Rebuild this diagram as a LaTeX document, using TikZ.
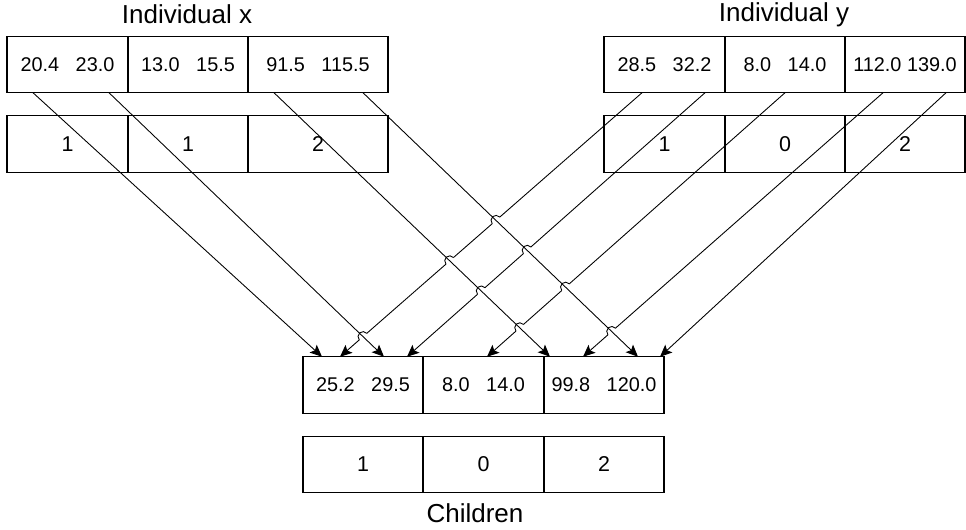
\documentclass[tikz,border=0pt]{standalone}
\usepackage{fontspec}
\setmainfont{Liberation Sans}
\usetikzlibrary{arrows.meta,positioning,calc,intersections}
\tikzset{
  gene/.style={draw,outer sep=0pt,inner sep=0pt,minimum height=1.13cm,
    line width=0.6pt,font=\fontsize{11.3}{13}\selectfont},
  code/.style={gene,font=\fontsize{12.2}{14}\selectfont},
  caption/.style={font=\fontsize{14.8}{17}\selectfont},
  link/.style={-{Stealth[length=2.4mm,width=2.1mm,inset=0.5mm]},line width=0.5pt},
  hop/.style={line width=0.5pt}
}
\newcommand{\gap}{\hspace{0.83em}}
% small arc of arrow R#2 jumping over arrow L#1
\newcommand{\hopover}[2]{%
  \path[name intersections={of=L#1 and R#2,by=j}];
  \fill[white] (j) circle (0.1);
  \draw[hop] let \p1=($(ys#2)-(ye#2)$), \n1={atan2(\y1,\x1)} in
    ($(j)+(\n1:0.1)$) arc[start angle=\n1,delta angle=180,radius=0.1];
}

\begin{document}
\begin{tikzpicture}[node distance=0.46cm]
  \useasboundingbox (0,0) rectangle (19.32,10.6);
  % first parent
  \node[gene,minimum width=2.42cm] (x1) at (1.35,9.31) {20.4\gap23.0};
  \node[gene,minimum width=2.40cm,right=0pt of x1] (x2) {13.0\gap15.5};
  \node[gene,minimum width=2.80cm,right=0pt of x2] (x3) {91.5\gap115.5};
  \node[code,minimum width=2.42cm,below=of x1] (kx1) {1};
  \node[code,minimum width=2.40cm,right=0pt of kx1] (kx2) {1};
  \node[code,minimum width=2.80cm,right=0pt of kx2] (kx3) {2};
  \node[caption] (tx) at (3.74,10.31) {Individual x};
  % second parent
  \node[gene,minimum width=2.42cm] (y1) at (13.29,9.31) {28.5\gap32.2};
  \node[gene,minimum width=2.40cm,right=0pt of y1] (y2) {8.0\gap14.0};
  \node[gene,minimum width=2.40cm,right=0pt of y2] (y3) {112.0 139.0};
  \node[code,minimum width=2.42cm,below=of y1] (ky1) {1};
  \node[code,minimum width=2.40cm,right=0pt of ky1] (ky2) {0};
  \node[code,minimum width=2.40cm,right=0pt of ky2] (ky3) {2};
  \node[caption] (ty) at (15.68,10.31) {Individual y};
  % offspring
  \node[gene,minimum width=2.40cm] (c1) at (7.26,2.90) {25.2\gap29.5};
  \node[gene,minimum width=2.42cm,right=0pt of c1] (c2) {8.0\gap14.0};
  \node[gene,minimum width=2.40cm,right=0pt of c2] (c3) {99.8\gap120.0};
  \node[code,minimum width=2.40cm,below=of c1] (kc1) {1};
  \node[code,minimum width=2.42cm,right=0pt of kc1] (kc2) {0};
  \node[code,minimum width=2.40cm,right=0pt of kc2] (kc3) {2};
  \node[caption] (tc) at (9.5,0.34) {Children};

  % arrow ends on the gene boxes
  \coordinate (xs1) at ([xshift=0.52cm]x1.south west);
  \coordinate (xs2) at ([xshift=2.04cm]x1.south west);
  \coordinate (xs3) at ([xshift=0.52cm]x3.south west);
  \coordinate (xs4) at ([xshift=2.30cm]x3.south west);
  \coordinate (xe1) at ([xshift=0.38cm]c1.north west);
  \coordinate (xe2) at ([xshift=1.62cm]c1.north west);
  \coordinate (xe3) at ([xshift=0.12cm]c3.north west);
  \coordinate (xe4) at ([xshift=1.88cm]c3.north west);
  \coordinate (ys1) at ([xshift=0.76cm]y1.south west);
  \coordinate (ys2) at ([xshift=2.02cm]y1.south west);
  \coordinate (ys3) at ([xshift=1.20cm]y2.south west);
  \coordinate (ys4) at ([xshift=0.76cm]y3.south west);
  \coordinate (ys5) at ([xshift=2.02cm]y3.south west);
  \coordinate (ye1) at ([xshift=0.74cm]c1.north west);
  \coordinate (ye2) at ([xshift=2.08cm]c1.north west);
  \coordinate (ye3) at ([xshift=1.28cm]c2.north west);
  \coordinate (ye4) at ([xshift=0.78cm]c3.north west);
  \coordinate (ye5) at ([xshift=2.32cm]c3.north west);

  % genes taken from y
  \draw[link,name path=R1] (ys1) -- (ye1);
  \draw[link,name path=R2] (ys2) -- (ye2);
  \draw[link,name path=R3] (ys3) -- (ye3);
  \draw[link,name path=R4] (ys4) -- (ye4);
  \draw[link,name path=R5] (ys5) -- (ye5);
  \path[name path=L1] (xs1) -- (xe1);
  \path[name path=L2] (xs2) -- (xe2);
  \path[name path=L3] (xs3) -- (xe3);
  \path[name path=L4] (xs4) -- (xe4);

  % line jumps where the y arrows cross the x arrows
  \foreach \lx/\ry in {2/1,3/1,3/2,3/3,4/1,4/2,4/3,4/4}
    {\hopover{\lx}{\ry}}

  % genes taken from x
  \draw[link] (xs1) -- (xe1);
  \draw[link] (xs2) -- (xe2);
  \draw[link] (xs3) -- (xe3);
  \draw[link] (xs4) -- (xe4);
\end{tikzpicture}
\end{document}
